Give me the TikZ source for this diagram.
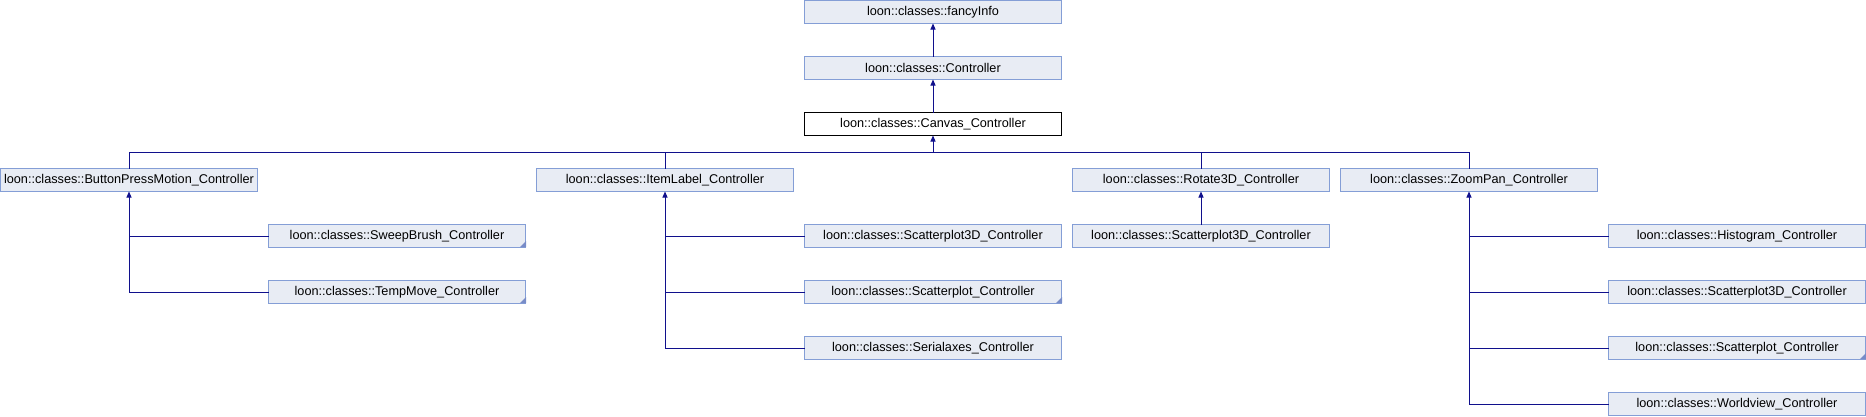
\documentclass[tikz,border=0pt]{standalone}
\usepackage{fontspec}
\setmainfont{Liberation Sans}
\usetikzlibrary{arrows.meta}
\definecolor{boxfill}{RGB}{232,236,244}
\definecolor{boxdraw}{RGB}{132,158,214}
\definecolor{edgecol}{RGB}{16,16,140}
\definecolor{cornercol}{RGB}{120,140,200}
\newcommand\morecorner[1]{\fill[cornercol] ([xshift=-5.5pt,yshift=0.5pt]#1.south east) -- ([xshift=0.5pt,yshift=0.5pt]#1.south east) -- ([xshift=0.5pt,yshift=6.5pt]#1.south east) -- cycle;}
\tikzset{
  cls/.style={draw=boxdraw, fill=boxfill, line width=1pt, minimum width=257pt, minimum height=23pt,
    inner sep=0pt, outer sep=0pt, anchor=north west, font=\fontsize{12.7}{14}\selectfont, text=black},
  cur/.style={cls, draw=black, fill=white},
  edge/.style={draw=edgecol, line width=1pt},
  inh/.style={edge, {Triangle[width=5pt,length=6pt]}-}
}
\begin{document}
\begin{tikzpicture}[x=1pt,y=-1pt]
\useasboundingbox (0,0) rectangle (1866,416);
% upper chain
\node[cls] (fancy) at (804.5,0.5) {loon::classes::fancyInfo};
\node[cls] (ctrl) at (804.5,56.5) {loon::classes::Controller};
\node[cur] (canvas) at (804.5,112.5) {loon::classes::Canvas\_Controller};
% top row
\node[cls] (bpm) at (0.5,168.5) {loon::classes::ButtonPressMotion\_Controller};
\node[cls] (item) at (536.5,168.5) {loon::classes::ItemLabel\_Controller};
\node[cls] (rot) at (1072.5,168.5) {loon::classes::Rotate3D\_Controller};
\node[cls] (zoom) at (1340.5,168.5) {loon::classes::ZoomPan\_Controller};
% bpm children
\node[cls] (sweep) at (268.5,224.5) {loon::classes::SweepBrush\_Controller};
\node[cls] (temp) at (268.5,280.5) {loon::classes::TempMove\_Controller};
% itemlabel children
\node[cls] (sthreeA) at (804.5,224.5) {loon::classes::Scatterplot3D\_Controller};
\node[cls] (scatA) at (804.5,280.5) {loon::classes::Scatterplot\_Controller};
\node[cls] (serial) at (804.5,336.5) {loon::classes::Serialaxes\_Controller};
% rotate child
\node[cls] (sthreeB) at (1072.5,224.5) {loon::classes::Scatterplot3D\_Controller};
% zoompan children
\node[cls] (hist) at (1608.5,224.5) {loon::classes::Histogram\_Controller};
\node[cls] (sthreeC) at (1608.5,280.5) {loon::classes::Scatterplot3D\_Controller};
\node[cls] (scatC) at (1608.5,336.5) {loon::classes::Scatterplot\_Controller};
\node[cls] (world) at (1608.5,392.5) {loon::classes::Worldview\_Controller};
% corner marks
\morecorner{sweep}
\morecorner{temp}
\morecorner{scatA}
\morecorner{scatC}
% edges
\draw[inh] (fancy.south) -- (ctrl.north);
\draw[inh] (ctrl.south) -- (canvas.north);
\coordinate (bus) at (933,152.5);
\draw[inh] (canvas.south) -- (bus);
\draw[edge] (bpm.north) |- (zoom.north |- bus) -- (zoom.north);
\draw[edge] (item.north) -- (item.north |- bus);
\draw[edge] (rot.north) -- (rot.north |- bus);
% bpm
\draw[inh] (bpm.south) |- (temp.west);
\draw[edge] (bpm.south |- sweep.west) -- (sweep.west);
% itemlabel
\draw[inh] (item.south) |- (serial.west);
\draw[edge] (item.south |- sthreeA.west) -- (sthreeA.west);
\draw[edge] (item.south |- scatA.west) -- (scatA.west);
% rotate
\draw[inh] (rot.south) -- (sthreeB.north);
% zoompan
\draw[inh] (zoom.south) |- (world.west);
\draw[edge] (zoom.south |- hist.west) -- (hist.west);
\draw[edge] (zoom.south |- sthreeC.west) -- (sthreeC.west);
\draw[edge] (zoom.south |- scatC.west) -- (scatC.west);
\end{tikzpicture}
\end{document}
